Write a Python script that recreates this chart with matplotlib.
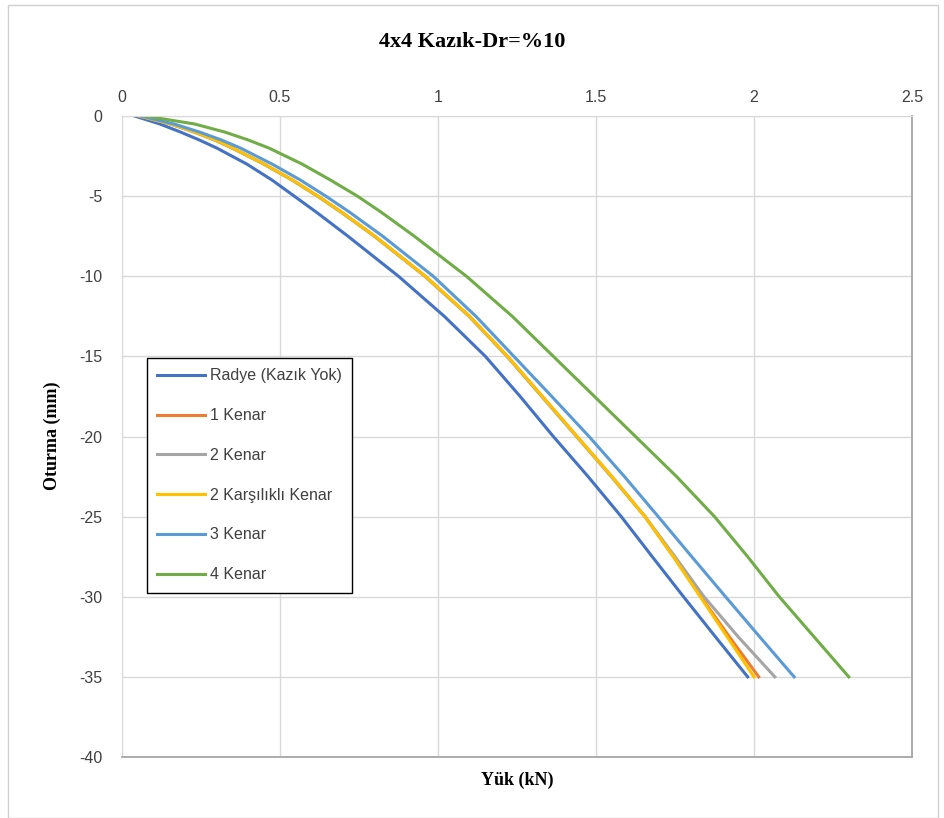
import matplotlib.pyplot as plt
from matplotlib.patches import Rectangle

plt.rcParams['axes.unicode_minus'] = False

# settlement levels (mm) and loads (kN)
oturma = [0, -0.5, -1, -1.5, -2, -3, -4, -5, -6, -7.5, -10, -12.5, -15, -17.5,
          -20, -22.5, -25, -27.5, -30, -32.5, -35]

radye = [0.04, 0.12, 0.185, 0.245, 0.30, 0.395, 0.475, 0.545, 0.615, 0.715, 0.875,
         1.02, 1.15, 1.26, 1.365, 1.475, 1.58, 1.678, 1.777, 1.878, 1.98]
kenar1 = [0.055, 0.155, 0.23, 0.295, 0.35, 0.45, 0.54, 0.62, 0.695, 0.80, 0.96,
          1.10, 1.22, 1.33, 1.44, 1.55, 1.655, 1.745, 1.832, 1.922, 2.015]
kenar2 = [0.055, 0.153, 0.228, 0.293, 0.348, 0.448, 0.538, 0.618, 0.693, 0.798, 0.958,
          1.098, 1.218, 1.328, 1.438, 1.548, 1.655, 1.75, 1.842, 1.95, 2.066]
kenar2k = [0.055, 0.155, 0.23, 0.295, 0.35, 0.45, 0.54, 0.62, 0.695, 0.80, 0.96,
           1.10, 1.22, 1.33, 1.44, 1.55, 1.655, 1.745, 1.83, 1.915, 2.0]
kenar3 = [0.06, 0.165, 0.245, 0.315, 0.375, 0.475, 0.565, 0.645, 0.72, 0.825, 0.985,
          1.12, 1.24, 1.36, 1.478, 1.59, 1.697, 1.803, 1.91, 2.018, 2.127]
kenar4 = [0.073, 0.23, 0.325, 0.40, 0.465, 0.57, 0.66, 0.745, 0.82, 0.925, 1.09,
          1.235, 1.365, 1.495, 1.625, 1.755, 1.875, 1.98, 2.08, 2.19, 2.30]

seriler = [
    ("Radye (Kazık Yok)", radye, "#4472C4"),
    ("1 Kenar", kenar1, "#ED7D31"),
    ("2 Kenar", kenar2, "#A5A5A5"),
    ("2 Karşılıklı Kenar", kenar2k, "#FFC000"),
    ("3 Kenar", kenar3, "#5B9BD5"),
    ("4 Kenar", kenar4, "#70AD47"),
]

fig = plt.figure(figsize=(9.45, 8.18), dpi=100)
ax = fig.add_axes([122/945, 1-757/818, 790/945, 641/818])

# light frame around the whole chart
fig.patches.append(Rectangle((8/945, 0), 930/945, 813/818, transform=fig.transFigure,
                             fill=False, edgecolor="#d0d0d0", linewidth=1))

for ad, deger, renk in seriler:
    ax.plot(deger, oturma, color=renk, linewidth=2.2, label=ad, solid_joinstyle="round")

ax.set_xlim(0, 2.5)
ax.set_ylim(-40, 0)
ax.set_xticks([0, 0.5, 1, 1.5, 2, 2.5])
ax.set_xticklabels(["0", "0.5", "1", "1.5", "2", "2.5"])
ax.set_yticks(range(-40, 1, 5))
ax.xaxis.tick_top()
ax.tick_params(length=0, labelsize=11.5, labelcolor="#404040")
ax.tick_params(axis="x", pad=8)
ax.tick_params(axis="y", pad=14)
for lab in ax.get_xticklabels() + ax.get_yticklabels():
    lab.set_fontfamily("Liberation Sans")
ax.grid(True, color="#d9d9d9", linewidth=1)
ax.set_axisbelow(True)
for s in ["left", "top"]:
    ax.spines[s].set_color("#d9d9d9")
for s in ["bottom", "right"]:
    ax.spines[s].set_color("#a6a6a6")
    ax.spines[s].set_linewidth(1.3)

fig.text(0.5, 1-42/818, "4x4 Kazık-Dr=%10", ha="center", va="center",
         fontsize=16, fontweight="bold", family="Liberation Serif")
fig.text(517/945, 1-780/818, "Yük (kN)", ha="center", va="center",
         fontsize=13, fontweight="bold", family="Liberation Serif")
fig.text(52/945, 1-436/818, "Oturma (mm)", ha="center", va="center", rotation=90,
         fontsize=13, fontweight="bold", family="Liberation Serif")

leg = ax.legend(loc="upper left", bbox_to_anchor=(0.0316, 0.6225), borderaxespad=0,
                fancybox=False, edgecolor="black", framealpha=1, handlelength=3.0,
                handletextpad=0.3, labelspacing=1.55, borderpad=0.65,
                prop={"family": "Liberation Sans", "size": 11.5})
leg.get_frame().set_linewidth(1)
for t in leg.get_texts():
    t.set_color("#404040")

fig.savefig("out.png", dpi=100)
